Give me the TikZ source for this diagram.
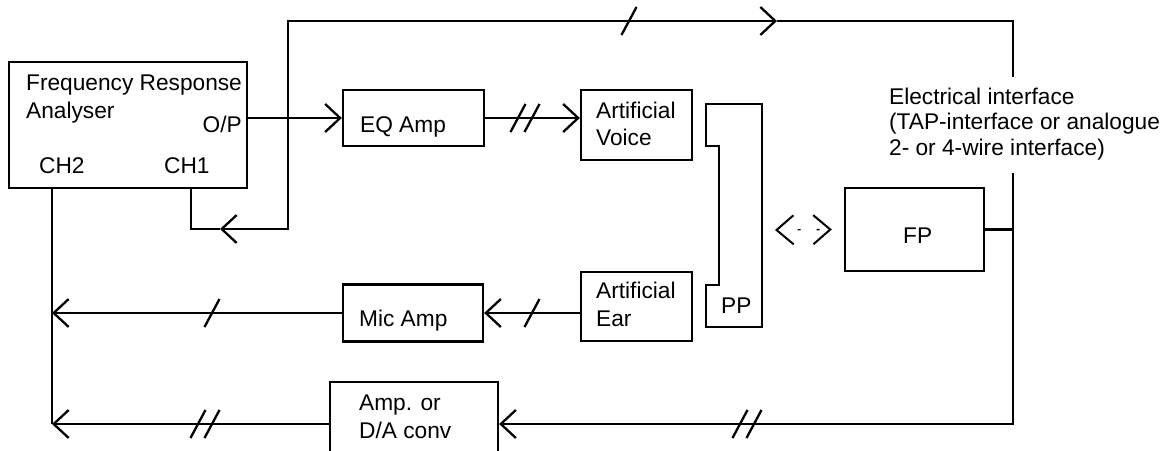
\documentclass[tikz,border=0pt]{standalone}
\usepackage{fontspec}
\setmainfont{Liberation Sans}
\usetikzlibrary{arrows.meta}
\begin{document}
\begin{tikzpicture}[x=1pt,y=-1pt,line width=2.3pt,
  box/.style={draw,rectangle,inner sep=0pt},
  lbl/.style={anchor=base west,inner sep=0pt,font=\fontsize{22.7}{27}\selectfont},
  lblr/.style={anchor=base east,inner sep=0pt,font=\fontsize{22.7}{27}\selectfont},
  arr/.style={-{Straight Barb[length=15pt,width=28pt]}},
  dasharr/.style={line width=1.3pt,
    dash pattern=on 0pt off 20pt on 3pt off 16pt on 3pt off 60pt,
    {Straight Barb[length=17pt,width=29pt,line width=2pt]}-{Straight Barb[length=17pt,width=29pt,line width=2pt]}},
  pics/tick/.style={code={\draw[line cap=butt] (-7.5,14) -- (7.5,-14);}}]
\useasboundingbox (0,0) rectangle (1173,450);

% boxes
\node[box,minimum width=238pt,minimum height=126pt] (fra) at (128,125) {};
\node[box,minimum width=141pt,minimum height=56pt] (eq) at (413.5,118) {};
\node[box,minimum width=111pt,minimum height=70pt] (av) at (636.5,125) {};
\node[box,minimum width=140pt,minimum height=57pt] (mic) at (413,313) {};
\node[box,minimum width=111pt,minimum height=69pt] (ae) at (636.5,306.5) {};
\node[box,minimum width=168pt,minimum height=84pt] (amp) at (414,424) {};
\node[box,minimum width=139pt,minimum height=83pt] (fp) at (914.5,229.5) {};

% PP handset
\draw (706,104) -- (762,104) -- (762,327) -- (706,327) -- (706,285)
  -- (719,285) -- (719,146) -- (706,146) -- cycle;
\coordinate (ppE) at (762,230);

% texts
\node[lbl] (t1) at (25,90) {Frequency Response};
\node[lbl] (t2) at (25,118) {Analyser};
\node[lblr] (t3) at (243,132) {O/P};
\node[lbl] (t4) at (38,173) {CH2};
\node[lbl] (t5) at (163,173) {CH1};
\node[lbl] (t6) at (359,132) {EQ Amp};
\node[lbl] (t7) at (595,118) {Artificial};
\node[lbl] (t8) at (595,145) {Voice};
\node[lbl] (t9) at (358,326) {Mic Amp};
\node[lbl] (t10) at (595,298) {Artificial};
\node[lbl] (t11) at (595,326) {Ear};
\node[lbl] (t12) at (720,313) {PP};
\node[lbl] (t13) at (902,243) {FP};
\node[lbl] (t14) at (358,410) {Amp. or};
\node[lbl] (t15) at (358,438) {D/A conv};
\node[lbl] (t16) at (888,104) {Electrical interface};
\node[lbl] (t17) at (888,129.5) {(TAP-interface or analogue};
\node[lbl] (t18) at (888,155) {2- or 4-wire interface)};

% coordinates
\coordinate (j) at (288,118);
\coordinate (ch1) at (191,188);
\coordinate (ch2) at (52,188);
\coordinate (ml) at (52,313);
\coordinate (bl) at (52,424);
\coordinate (loopA) at (220,229);
\coordinate (topA) at (777,21);
\coordinate (eiTop) at (1013,77);
\coordinate (eiBot) at (1013,173);

% connectors
\draw[arr] (fra.east |- eq.west) -- (eq.west);
\draw[arr] (eq.east) -- (eq.east -| av.west);
\draw[arr] (j) |- (topA);
\draw (topA) -| (eiTop);
\draw[arr] (j) |- (loopA);
\draw (loopA) -| (ch1);
\draw (ch2) -- (bl);
\draw[arr] (mic.west) -- (ml);
\draw[arr] (amp.west) -- (bl);
\draw[arr] (ae.west |- mic.east) -- (mic.east);
\draw[arr] (eiBot) |- (amp.east);
\draw (fp.east) -- (fp.east -| eiBot);
\draw[dasharr] ([xshift=13pt]ppE) -- ([xshift=-12pt]fp.west);

% bus-width ticks
\pic at (629,21) {tick};
\pic at (518,118) {tick};
\pic at (532,118) {tick};
\pic at (212,313) {tick};
\pic at (532,313) {tick};
\pic at (198,424) {tick};
\pic at (212,424) {tick};
\pic at (740,424) {tick};
\pic at (754,424) {tick};
\end{tikzpicture}
\end{document}
